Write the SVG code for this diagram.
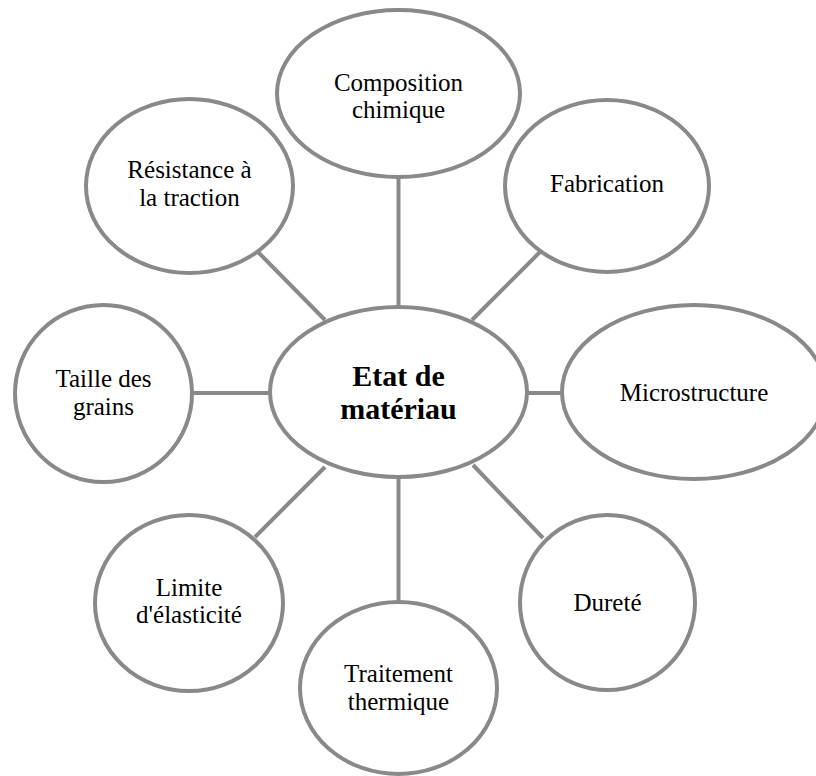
<svg xmlns="http://www.w3.org/2000/svg" width="816" height="776" viewBox="0 0 816 776">
<style>
.n{fill:#fff;stroke:#898989;stroke-width:4}
.c line{stroke:#898989;stroke-width:4}
text{font-family:"Liberation Serif","Times New Roman",serif;font-size:25px;fill:#000;text-anchor:middle}
.b{font-weight:bold;font-size:30px}
</style>
<rect width="816" height="776" fill="#fff"/>
<g class="c" id="connectors">
<line x1="398.5" y1="177" x2="398.5" y2="307"/>
<line x1="540" y1="252" x2="472" y2="320"/>
<line x1="527" y1="393" x2="562" y2="393"/>
<line x1="543" y1="538" x2="473" y2="465"/>
<line x1="398.5" y1="477" x2="398.5" y2="602"/>
<line x1="255" y1="537" x2="325" y2="467"/>
<line x1="192" y1="393" x2="270" y2="393"/>
<line x1="258" y1="252" x2="325" y2="320"/>
</g>
<g id="composition"><ellipse class="n" cx="398.5" cy="93.5" rx="121.5" ry="83.5"/><text x="398.5" y="91">Composition</text><text x="398.5" y="118">chimique</text></g>
<g id="fabrication"><ellipse class="n" cx="607" cy="186" rx="102" ry="86"/><text x="607" y="192">Fabrication</text></g>
<g id="microstructure"><ellipse class="n" cx="694" cy="392" rx="132" ry="87"/><text x="694" y="401">Microstructure</text></g>
<g id="durete"><ellipse class="n" cx="607.5" cy="602.5" rx="87.5" ry="87.5"/><text x="607.5" y="611">Dureté</text></g>
<g id="traitement"><ellipse class="n" cx="398.5" cy="688" rx="98.5" ry="86"/><text x="398.5" y="682">Traitement</text><text x="398.5" y="710">thermique</text></g>
<g id="limite"><ellipse class="n" cx="189" cy="603" rx="94" ry="88"/><text x="189" y="596">Limite</text><text x="189" y="623">d'élasticité</text></g>
<g id="taille"><ellipse class="n" cx="103.5" cy="393.5" rx="88.5" ry="88.5"/><text x="103.5" y="387">Taille des</text><text x="103.5" y="415">grains</text></g>
<g id="resistance"><ellipse class="n" cx="189.5" cy="186" rx="103.5" ry="87"/><text x="189.5" y="178">Résistance à</text><text x="189.5" y="206">la traction</text></g>
<g id="center"><ellipse class="n" cx="398.5" cy="392" rx="128.5" ry="85"/><text class="b" x="398.5" y="386">Etat de</text><text class="b" x="398.5" y="419">matériau</text></g>
</svg>
